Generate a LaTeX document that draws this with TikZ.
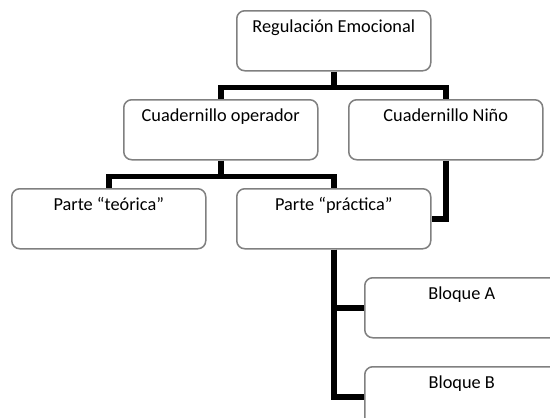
\documentclass[tikz,border=0pt]{standalone}
\usepackage{fontspec}
\setmainfont{Carlito}
\begin{document}
\begin{tikzpicture}[x=1pt,y=-1pt,
  box/.style={draw=black!50, line width=1.5pt, rounded corners=8pt, fill=white,
    minimum width=194pt, inner xsep=0pt, inner ysep=0pt,
    text height=22pt, text depth=38pt, font=\fontsize{18.3pt}{21pt}\selectfont},
  conn/.style={line width=5.5pt, draw=black}]
\useasboundingbox (0,0) rectangle (550,418);
\clip (0,0) rectangle (550,418);
\fill[white] (0,0) rectangle (550,418);
% nodes (positioned by their north-west corners)
\node[box, anchor=north west] (reg) at (236,10) {Regulación Emocional};
\node[box, anchor=north west] (op)  at (123,99) {Cuadernillo operador};
\node[box, anchor=north west] (nino) at (348,99) {Cuadernillo Niño};
\node[box, anchor=north west] (teo) at (11,188) {Parte “teórica”};
\node[box, anchor=north west] (pra) at (236,188) {Parte “práctica”};
\node[box, anchor=north west] (ba) at (364,277) {Bloque A};
\node[box, anchor=north west] (bb) at (364,366) {Bloque B};
% connectors
\draw[conn] (reg.south) -- ++(0,16) -| (op.north);
\draw[conn] (reg.south) ++(0,16) -| (nino.north);
\draw[conn] (op.south) -- ++(0,16) -| (teo.north);
\draw[conn] (op.south) ++(0,16) -| (pra.north);
\draw[conn] (nino.south) |- (pra.east);
\draw[conn] (pra.south) |- (ba.west);
\draw[conn] (pra.south) |- (bb.west);
\end{tikzpicture}
\end{document}
